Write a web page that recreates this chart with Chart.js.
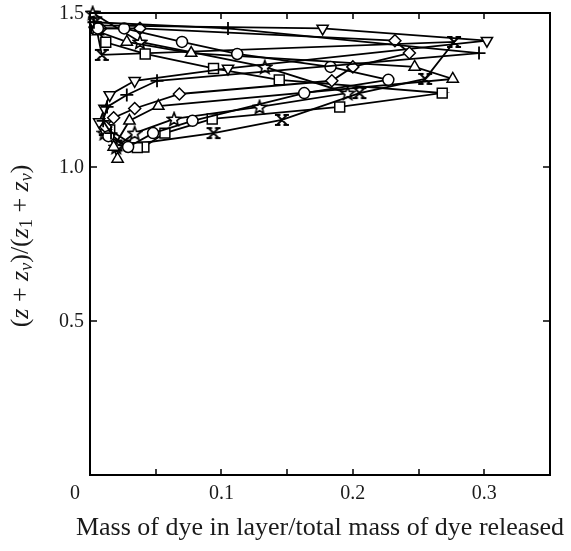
<!DOCTYPE html>
<html>
<head>
<meta charset="utf-8">
<script src="https://cdn.jsdelivr.net/npm/chart.js@4.4.1/dist/chart.umd.min.js"></script>
<style>
  html, body { margin: 0; padding: 0; background: #fff; }
  canvas { display: block; }
</style>
</head>
<body>
<canvas id="chart" width="571" height="551"></canvas>
<script>
// values: x = mass fraction, y = (z + zv)/(z1 + zv)
const invTriX = [0.004, 0.177, 0.302, 0.105, 0.034, 0.015, 0.011, 0.007, 0.012];
const invTriY = [1.46, 1.45, 1.41, 1.32, 1.28, 1.234, 1.19, 1.146, 1.11];

const plusX = [0.003, 0.105, 0.296, 0.051, 0.028, 0.013, 0.010, 0.016];
const plusY = [1.47, 1.45, 1.37, 1.28, 1.234, 1.195, 1.15, 1.11];

const circX = [0.006, 0.026, 0.070, 0.112, 0.183, 0.227, 0.163, 0.078, 0.048, 0.029, 0.014];
const circY = [1.45, 1.45, 1.406, 1.367, 1.325, 1.283, 1.24, 1.15, 1.11, 1.065, 1.10];

const diamX = [0.008, 0.038, 0.232, 0.243, 0.200, 0.184, 0.068, 0.034, 0.018, 0.012];
const diamY = [1.45, 1.45, 1.41, 1.37, 1.325, 1.28, 1.237, 1.19, 1.16, 1.13];

const triX = [0.006, 0.028, 0.077, 0.247, 0.276, 0.052, 0.030, 0.018, 0.021];
const triY = [1.44, 1.406, 1.37, 1.325, 1.286, 1.198, 1.15, 1.065, 1.026];

const sqX = [0.005, 0.012, 0.042, 0.094, 0.144, 0.268, 0.190, 0.093, 0.057, 0.041, 0.036, 0.015];
const sqY = [1.45, 1.405, 1.367, 1.32, 1.283, 1.24, 1.195, 1.156, 1.11, 1.065, 1.063, 1.12];

const bowX = [0.004, 0.009, 0.277, 0.255, 0.205, 0.146, 0.094, 0.026, 0.012];
const bowY = [1.47, 1.364, 1.406, 1.286, 1.24, 1.153, 1.11, 1.07, 1.12];

const starX = [0.002, 0.038, 0.133, 0.196, 0.129, 0.064, 0.034, 0.020, 0.011];
const starY = [1.50, 1.406, 1.325, 1.24, 1.195, 1.156, 1.11, 1.065, 1.11];

const xTicks = [0.05, 0.1, 0.15, 0.2, 0.25, 0.3];
const xLabelVals = [0, 0.1, 0.2, 0.3];
const xLabels = ['0', '0.1', '0.2', '0.3'];
const yTicks = [0.5, 1.0, 1.5];
const yLabels = ['0.5', '1.0', '1.5'];

const xTitle = 'Mass of dye in layer/total mass of dye released';

const serif = '"Liberation Serif", "DejaVu Serif", serif';

// custom markers
function makeStar() {
  const c = document.createElement('canvas');
  c.width = 16; c.height = 16;
  const g = c.getContext('2d');
  g.beginPath();
  for (let i = 0; i < 10; i++) {
    const r = i % 2 === 0 ? 7 : 3;
    const a = -Math.PI / 2 + i * Math.PI / 5;
    const px = 8 + r * Math.cos(a), py = 8.6 + r * Math.sin(a);
    if (i === 0) g.moveTo(px, py); else g.lineTo(px, py);
  }
  g.closePath();
  g.fillStyle = '#fff';
  g.fill();
  g.lineWidth = 1.6;
  g.strokeStyle = '#000';
  g.stroke();
  return c;
}

function makeBow() {
  const c = document.createElement('canvas');
  c.width = 16; c.height = 16;
  const g = c.getContext('2d');
  g.lineWidth = 1.8;
  g.strokeStyle = '#000';
  g.beginPath();
  g.moveTo(3, 3); g.lineTo(13, 13);
  g.moveTo(13, 3); g.lineTo(3, 13);
  g.moveTo(1, 3); g.lineTo(6.5, 3);
  g.moveTo(9.5, 3); g.lineTo(15, 3);
  g.moveTo(1, 13); g.lineTo(6.5, 13);
  g.moveTo(9.5, 13); g.lineTo(15, 13);
  g.stroke();
  return c;
}

function pts(xs, ys) {
  return xs.map((v, i) => ({ x: v, y: ys[i] }));
}

function series(xs, ys, style, extra) {
  return Object.assign({
    data: pts(xs, ys),
    showLine: true,
    borderColor: '#000',
    borderWidth: 1.8,
    pointStyle: style,
    pointRadius: 5.5,
    pointBorderWidth: 1.5,
    pointBackgroundColor: '#fff',
    pointBorderColor: '#000',
    clip: false
  }, extra || {});
}

const axes = {
  id: 'axes',
  afterDatasetsDraw(chart) {
    const { ctx, chartArea: a, scales: { x, y } } = chart;
    ctx.save();
    ctx.strokeStyle = '#000';
    ctx.lineWidth = 2;
    ctx.strokeRect(a.left, a.top, a.right - a.left, a.bottom - a.top);

    ctx.lineWidth = 1.5;
    ctx.beginPath();
    xTicks.forEach(v => {
      const px = Math.round(x.getPixelForValue(v));
      ctx.moveTo(px, a.bottom); ctx.lineTo(px, a.bottom - 6);
      ctx.moveTo(px, a.top); ctx.lineTo(px, a.top + 6);
    });
    yTicks.forEach(v => {
      const py = Math.round(y.getPixelForValue(v));
      ctx.moveTo(a.left, py); ctx.lineTo(a.left + 7, py);
      ctx.moveTo(a.right, py); ctx.lineTo(a.right - 7, py);
    });
    ctx.stroke();

    ctx.fillStyle = '#1a1a1a';
    ctx.font = '20px ' + serif;
    ctx.textAlign = 'center';
    ctx.textBaseline = 'middle';
    xLabelVals.forEach((v, i) => {
      let px = x.getPixelForValue(v);
      if (v === 0) px -= 15;
      ctx.fillText(xLabels[i], px, a.bottom + 19);
    });
    ctx.textAlign = 'right';
    yTicks.forEach((v, i) => {
      ctx.fillText(yLabels[i], a.left - 6, y.getPixelForValue(v) + 1);
    });

    ctx.textAlign = 'center';
    ctx.font = '26px ' + serif;
    ctx.fillText(xTitle, (a.left + a.right) / 2, a.bottom + 53);

    // rotated y title with italics and subscripts
    const segs = [
      { t: '(' }, { t: 'z', i: true }, { t: ' + ' }, { t: 'z', i: true }, { t: 'v', i: true, s: true },
      { t: ')/(' }, { t: 'z', i: true }, { t: '1', s: true }, { t: ' + ' }, { t: 'z', i: true },
      { t: 'v', i: true, s: true }, { t: ')' }
    ];
    const fontOf = sg => (sg.i ? 'italic ' : '') + (sg.s ? '18px ' : '26px ') + serif;
    let total = 0;
    segs.forEach(sg => { ctx.font = fontOf(sg); sg.w = ctx.measureText(sg.t).width; total += sg.w; });
    ctx.translate(21, (a.top + a.bottom) / 2 + 2);
    ctx.rotate(-Math.PI / 2);
    ctx.textAlign = 'left';
    let cx = -total / 2;
    segs.forEach(sg => {
      ctx.font = fontOf(sg);
      ctx.fillText(sg.t, cx, sg.s ? 6 : 0);
      cx += sg.w;
    });
    ctx.restore();
  }
};

new Chart(document.getElementById('chart'), {
  type: 'scatter',
  data: {
    datasets: [
      series(plusX, plusY, 'cross', { pointRadius: 6.5, pointBorderWidth: 1.8 }),
      series(circX, circY, 'circle'),
      series(diamX, diamY, 'rectRot', { pointRadius: 6 }),
      series(triX, triY, 'triangle', { pointRadius: 6.5 }),
      series(invTriX, invTriY, 'triangle', { pointRadius: 6.5, pointRotation: 180 }),
      series(sqX, sqY, 'rect', { pointRadius: 7 }),
      series(bowX, bowY, makeBow()),
      series(starX, starY, makeStar())
    ]
  },
  options: {
    responsive: false,
    animation: false,
    devicePixelRatio: 1,
    layout: { padding: { left: 90, right: 21, top: 13, bottom: 76 } },
    plugins: { legend: { display: false }, tooltip: { enabled: false } },
    scales: {
      x: { type: 'linear', min: 0, max: 0.35, display: false },
      y: { type: 'linear', min: 0, max: 1.5, display: false }
    }
  },
  plugins: [axes]
});
</script>
</body>
</html>
